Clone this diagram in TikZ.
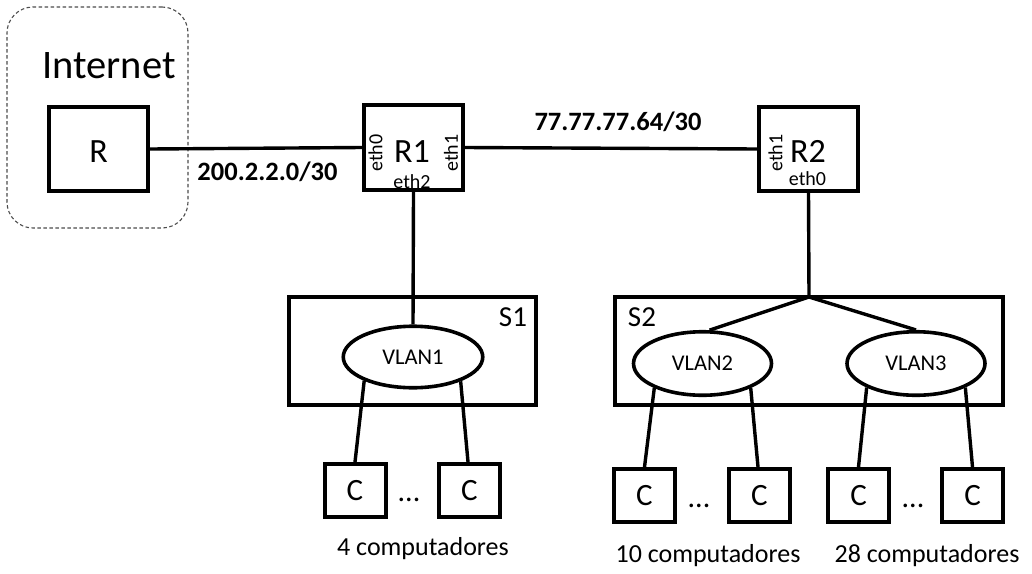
\documentclass[tikz,border=0pt]{standalone}
\usepackage{fontspec}
\setmainfont{Carlito}
\usetikzlibrary{shapes.geometric}
\tikzset{
  netbox/.style={draw, line width=4pt, inner sep=0pt},
  vlan/.style={draw, ellipse, line width=3.6pt, inner sep=0pt, font=\fontsize{22.5}{26}\selectfont},
  pcbox/.style={netbox, minimum width=61pt, minimum height=53pt, font=\fontsize{31}{34}\selectfont},
  wire/.style={line width=3.4pt},
  lbl/.style={inner sep=0pt, anchor=base},
  ethl/.style={inner sep=0pt, font=\fontsize{20}{22}\selectfont},
  netl/.style={inner sep=0pt, anchor=base, font=\bfseries\fontsize{26.5}{30}\selectfont},
  cnt/.style={inner sep=0pt, anchor=base, font=\fontsize{26}{30}\selectfont},
  dots/.style={inner sep=0pt, anchor=base, font=\fontsize{30}{34}\selectfont},
}
\begin{document}
\begin{tikzpicture}[x=1pt,y=-1pt]
\useasboundingbox (0,0) rectangle (1032,573);
% Internet cloud
\node[draw=black!70, dash pattern=on 3.5pt off 2.5pt, line width=1.1pt, rounded corners=26pt,
      minimum width=181pt, minimum height=221pt] (inet) at (97.5,117.5) {};
\node[lbl, font=\fontsize{40.5}{46}\selectfont] (inettxt) at (109,78) {Internet};
% routers
\node[netbox, minimum width=99pt, minimum height=84pt] (R) at (98.5,149) {};
\node[lbl, font=\fontsize{34}{38}\selectfont] (Rt) at (98.5,162) {R};
\node[netbox, minimum width=99pt, minimum height=85pt] (R1) at (413.5,147.5) {};
\node[lbl, font=\fontsize{34}{38}\selectfont] (R1t) at (412,162) {R1};
\node[ethl, rotate=90] (r1e0) at (375.5,153) {eth0};
\node[ethl, rotate=90] (r1e1) at (451,153) {eth1};
\node[ethl, anchor=base] (r1e2) at (412,188) {eth2};
\node[netbox, minimum width=99pt, minimum height=84pt] (R2) at (808.5,149) {};
\node[lbl, font=\fontsize{34}{38}\selectfont] (R2t) at (808,162) {R2};
\node[ethl, rotate=90] (r2e1) at (775.5,153) {eth1};
\node[ethl, anchor=base] (r2e0) at (807.5,185) {eth0};
% links
\draw[wire] (R.east) -- (R1.west);
\draw[wire] (R1.east) -- (R2.west);
\node[netl] (n1) at (267.5,180) {200.2.2.0/30};
\node[netl] (n2) at (618,130) {77.77.77.64/30};
% switches
\node[netbox, minimum width=247pt, minimum height=108pt] (S1) at (412.5,351) {};
\node[lbl, font=\fontsize{29}{32}\selectfont] (S1t) at (513,326) {S1};
\node[netbox, minimum width=388pt, minimum height=108pt] (S2) at (809,351) {};
\node[lbl, font=\fontsize{29}{32}\selectfont] (S2t) at (642,326) {S2};
% vlans
\node[vlan, minimum width=139.5pt, minimum height=61.5pt] (V1) at (413,357) {VLAN1};
\node[vlan, minimum width=138pt, minimum height=63.5pt] (V2) at (702.5,363.5) {VLAN2};
\node[vlan, minimum width=138pt, minimum height=63.5pt] (V3) at (916,363.5) {VLAN3};
\draw[wire] (R1.south) -- (V1.north);
\coordinate (J) at (809,297);
\draw[wire] (R2.south) -- (J);
\draw[wire] (J) -- (V2.78);
\draw[wire] (J) -- (V3.north);
% computers
\node[pcbox] (C1) at (355,490.5) {C};
\node[pcbox] (C2) at (469.5,490.5) {C};
\node[pcbox] (C3) at (644.5,495.5) {C};
\node[pcbox] (C4) at (759.5,495.5) {C};
\node[pcbox] (C5) at (858.5,495.5) {C};
\node[pcbox] (C6) at (972.5,495.5) {C};
\draw[wire] (V1.206) -- (C1.north);
\draw[wire] (V1.333) -- ([xshift=-1.5pt]C2.north);
\draw[wire] (V2.207) -- (C3.north);
\draw[wire] (V2.333) -- ([xshift=-1.5pt]C4.north);
\draw[wire] (V3.206) -- (C5.north);
\draw[wire] (V3.334) -- (C6.north);
\node[dots] (d1) at (409,501) {...};
\node[dots] (d2) at (699,507) {...};
\node[dots] (d3) at (913,507) {...};
\node[cnt] (k1) at (423,555) {4 computadores};
\node[cnt] (k2) at (708,562) {10 computadores};
\node[cnt] (k3) at (927,562) {28 computadores};
\end{tikzpicture}
\end{document}
